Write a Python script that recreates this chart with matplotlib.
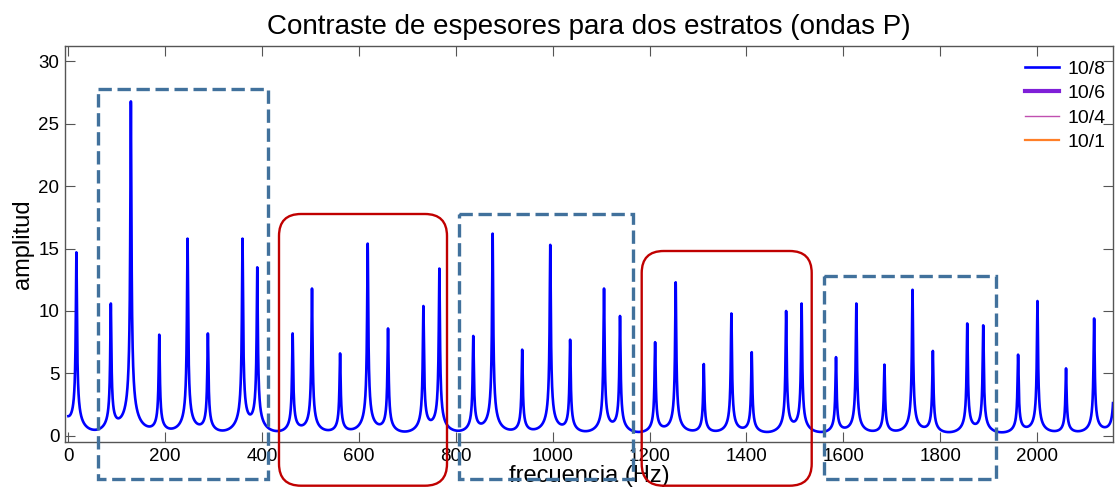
import numpy as np
import matplotlib
matplotlib.use('Agg')
import matplotlib.pyplot as plt
from matplotlib.patches import Rectangle, FancyBboxPatch
from matplotlib.lines import Line2D
from matplotlib.transforms import Affine2D

plt.rcParams['font.family'] = ['Liberation Sans', 'DejaVu Sans']

# Picos (frecuencia en Hz, amplitud)
pico_f = [16.5, 87.6, 129, 187.6, 246, 288, 359.5, 390,
          463, 503, 561, 618, 660, 733, 766,
          836, 876, 937, 995, 1036, 1106, 1139,
          1211.5, 1254, 1312, 1369, 1411, 1482, 1514,
          1585, 1627, 1685, 1743, 1785, 1856, 1889,
          1961, 2001, 2060, 2118, 2160]
pico_a = [14.7, 10.6, 26.8, 8.1, 15.8, 8.2, 15.8, 13.5,
          8.2, 11.8, 6.6, 15.4, 8.6, 10.4, 13.4,
          8.0, 16.2, 6.9, 15.3, 7.7, 11.8, 9.6,
          7.5, 12.3, 5.75, 9.8, 6.7, 10.0, 10.6,
          6.3, 10.6, 5.7, 11.7, 6.8, 9.0, 8.85,
          6.5, 10.8, 5.4, 9.4, 8.0]
f_max = 2157

etiquetas = ['10/8', '10/6', '10/4', '10/1']
colores = ['#0000FF', '#7F1FD8', '#C050B0', '#FF7F27']
grosores = [1.9, 3.0, 1.0, 1.6]


def forma(d, g=1.0, D=50.0):
    # forma de un pico de resonancia
    return g / np.sqrt(g**2 + d**2) * np.exp(-(d / D)**2)


pf = np.array(pico_f)
pa = np.array(pico_a)
M = forma(pf[:, None] - pf[None, :]) + forma(pf[:, None] + pf[None, :])
amp = np.linalg.solve(M, pa)
f = np.union1d(np.linspace(0, f_max, 8000), pf[pf <= f_max])
y = (forma(f[:, None] - pf[None, :]) + forma(f[:, None] + pf[None, :])) @ amp

fig = plt.figure(figsize=(11.15, 4.94), dpi=100)
ax = fig.add_axes([65 / 1115, 1 - 442 / 494, (1113 - 65) / 1115, (442 - 46.5) / 494])

ax.plot(f, y, color=colores[0], lw=grosores[0])
ax.set_xlim(-7, f_max)
ax.set_ylim(-0.5, 31.2)
ax.set_xticks(range(0, 2001, 200))
ax.set_yticks(range(0, 31, 5))
ax.tick_params(direction='in', length=7, width=0.8, top=True, right=True,
               labelsize=13.5, color='#555555', pad=4)
for s in ax.spines.values():
    s.set_color('#555555')
    s.set_linewidth(1.0)

ax.set_title('Contraste de espesores para dos estratos (ondas P)', fontsize=20, pad=9)
ax.set_xlabel('frecuencia (Hz)', fontsize=17, labelpad=0)
ax.set_ylabel('amplitud', fontsize=17, labelpad=3)

handles = [Line2D([], [], color=c, lw=w) for c, w in zip(colores, grosores)]
ax.legend(handles, etiquetas, loc='upper right', bbox_to_anchor=(1.0, 0.985),
          frameon=False, fontsize=14, handlelength=1.75, labelspacing=0.35,
          borderaxespad=0, handletextpad=0.4)

# marcos de anotacion (en pixeles, y hacia abajo)
tr = Affine2D().scale(1, -1).translate(0, 494)
azul = '#41719C'
rojo = '#C00000'
for x0, y0, x1, y1 in [(97.7, 89.3, 267.7, 479.3),
                       (459.3, 214, 633.3, 479.3),
                       (824.3, 276, 995.5, 479.3)]:
    fig.add_artist(Rectangle((x0, y0), x1 - x0, y1 - y0, fill=False, ec=azul, lw=2.4,
                             linestyle=(0, (4.0, 1.7)), transform=tr, zorder=10))
for x0, y0, x1, y1 in [(279, 214, 447, 485.7),
                       (641.7, 251, 811.7, 485.7)]:
    fig.add_artist(FancyBboxPatch((x0, y0), x1 - x0, y1 - y0,
                                  boxstyle='round,pad=0,rounding_size=22',
                                  fill=False, ec=rojo, lw=1.7, transform=tr, zorder=10))

fig.savefig('out.png', dpi=100)
